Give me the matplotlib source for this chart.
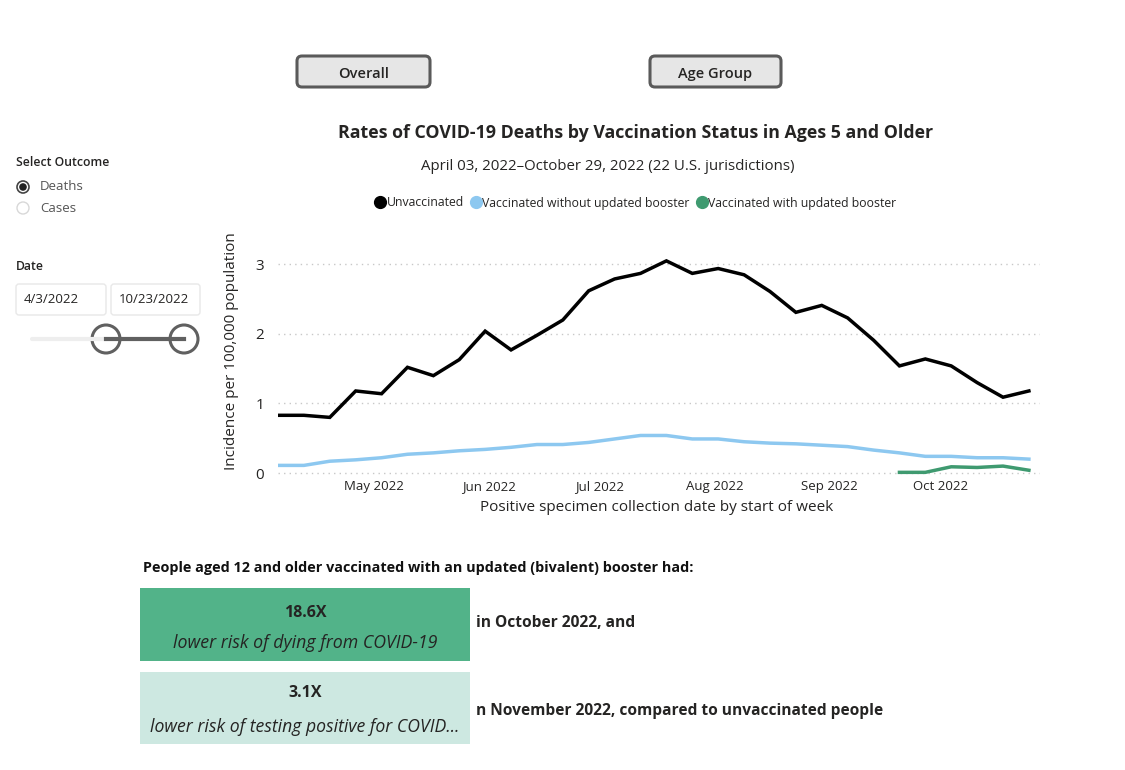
import matplotlib
matplotlib.use("Agg")
import matplotlib.pyplot as plt
from matplotlib.patches import FancyBboxPatch, Circle, Rectangle
from matplotlib.lines import Line2D
import numpy as np
import pandas as pd

# ---------------- data ----------------
week_start = pd.date_range("2022-04-03", "2022-10-23", freq="7D")
unvaccinated = [0.83, 0.83, 0.80, 1.18, 1.14, 1.52, 1.40, 1.63, 2.04, 1.77,
                1.98, 2.20, 2.62, 2.79, 2.87, 3.05, 2.87, 2.94, 2.85, 2.61,
                2.31, 2.41, 2.23, 1.91, 1.54, 1.64, 1.54, 1.30, 1.09, 1.18]
vacc_no_booster = [0.11, 0.11, 0.17, 0.19, 0.22, 0.27, 0.29, 0.32, 0.34, 0.37,
                   0.41, 0.41, 0.44, 0.49, 0.54, 0.54, 0.49, 0.49, 0.45, 0.43,
                   0.42, 0.40, 0.38, 0.33, 0.29, 0.24, 0.24, 0.22, 0.22, 0.20]
vacc_booster = [np.nan] * 24 + [0.01, 0.01, 0.09, 0.08, 0.10, 0.04]
series_names = ["Unvaccinated", "Vaccinated without updated booster",
                "Vaccinated with updated booster"]
month_ticks = pd.to_datetime(["2022-05-01", "2022-06-01", "2022-07-01",
                              "2022-08-01", "2022-09-01", "2022-10-01"])
month_labels = ["May 2022", "Jun 2022", "Jul 2022", "Aug 2022", "Sep 2022", "Oct 2022"]
y_ticks = [0, 1, 2, 3]

title = "Rates of COVID-19 Deaths by Vaccination Status in Ages 5 and Older"
subtitle = "April 03, 2022\u2013October 29, 2022 (22 U.S. jurisdictions)"

# ---------------- style ----------------
FONT = ["Open Sans", "DejaVu Sans"]
plt.rcParams["font.family"] = FONT
C_BLACK = "#000000"
C_BLUE = "#8dc8f0"
C_GREEN = "#3f9a70"
TXT = "#252423"

W, H = 1125, 770
fig = plt.figure(figsize=(W / 100, H / 100), dpi=100)
fig.patch.set_facecolor("white")


def fx(x):
    return x / W


def fy(y):
    return 1 - y / H


# ---------------- main chart ----------------
left, right, top, bottom = 278, 1040, 240, 480
ax = fig.add_axes([fx(left), fy(bottom), fx(right - left), (bottom - top) / H])
ax.plot(week_start, unvaccinated, color=C_BLACK, lw=2.5, solid_joinstyle="miter")
ax.plot(week_start, vacc_no_booster, color=C_BLUE, lw=2.5)
ax.plot(week_start, vacc_booster, color=C_GREEN, lw=2.5)
ax.set_ylim(-0.1, 3.35)
ax.set_xlim(week_start[0], week_start[-1] + pd.Timedelta(days=3))
ax.set_yticks(y_ticks)
ax.set_yticklabels([str(v) for v in y_ticks], fontsize=11, color=TXT)
ax.set_xticks(month_ticks - pd.Timedelta(days=2))
ax.set_xticklabels(month_labels, fontsize=9.5, color=TXT)
ax.tick_params(axis="x", length=0, pad=0)
ax.tick_params(axis="y", length=0, pad=10)
for s in ax.spines.values():
    s.set_visible(False)
ax.grid(axis="y", color="#c8c8c8", linestyle=(0, (1, 3)), lw=1)
ax.set_axisbelow(True)
ax.set_ylabel("Incidence per 100,000 population", fontsize=11, color=TXT)
ax.yaxis.set_label_coords(-(278 - 239) / (right - left), (bottom - 351) / (bottom - top))
ax.set_xlabel("Positive specimen collection date by start of week", fontsize=11,
              color=TXT)
ax.xaxis.set_label_coords((657 - left) / (right - left), -(500 - bottom) / (bottom - top))

# title / subtitle
fig.text(fx(636), fy(133), title, ha="center", va="center", fontsize=12.8,
         fontweight="bold", color=TXT)
fig.text(fx(608), fy(167), subtitle, ha="center", va="center", fontsize=10.8, color=TXT)

# legend
handles = [Line2D([], [], marker="o", ls="none", color=c, markersize=8.5)
           for c in (C_BLACK, C_BLUE, C_GREEN)]
leg = fig.legend(handles, series_names, loc="center", bbox_to_anchor=(fx(635), fy(203)),
                 ncol=3, frameon=False, fontsize=8.8, handletextpad=0.0,
                 columnspacing=0.5, handlelength=1.0)
for t in leg.get_texts():
    t.set_color(TXT)

# ---------------- overlay (buttons, slicers, cards) ----------------
ov = fig.add_axes([0, 0, 1, 1])
ov.set_xlim(0, W)
ov.set_ylim(H, 0)
ov.axis("off")
ov.set_zorder(-1)

for (x0, x1, label) in [(297, 430, "Overall"), (650, 781, "Age Group")]:
    ov.add_patch(FancyBboxPatch((x0, 56), x1 - x0, 31,
                                boxstyle="round,pad=0,rounding_size=5",
                                fc="#e6e6e6", ec="#5a5a5a", lw=2.2))
    ov.text((x0 + x1) / 2, 74, label, ha="center", va="center", fontsize=10.5,
            fontweight="semibold", color=TXT)

# Select outcome
ov.text(16, 162, "Select Outcome", ha="left", va="center", fontsize=8.8,
        fontweight="semibold", color=TXT)
ov.add_patch(Circle((23, 187), 6, fc="white", ec="#444444", lw=1.2))
ov.add_patch(Circle((23, 187), 3.8, fc="#222222", ec="none"))
ov.text(40, 187, "Deaths", ha="left", va="center", fontsize=9.5, color="#555555")
ov.add_patch(Circle((23, 208), 6, fc="white", ec="#d8d8d8", lw=1))
ov.text(40, 208, "Cases", ha="left", va="center", fontsize=9.5, color="#555555")

# Date slicer
ov.text(16, 266, "Date", ha="left", va="center", fontsize=8.8, fontweight="semibold",
        color=TXT)
for (x0, x1, label) in [(16, 106, "4/3/2022"), (111, 200, "10/23/2022")]:
    ov.add_patch(FancyBboxPatch((x0, 284), x1 - x0, 31,
                                boxstyle="round,pad=0,rounding_size=3",
                                fc="white", ec="#e8e8e8", lw=1))
    ov.text(x0 + 8, 299.5, label, ha="left", va="center", fontsize=9.5, color=TXT)
ov.plot([32, 106], [339, 339], color="#eeeeee", lw=3, solid_capstyle="round")
ov.plot([106, 184], [339, 339], color="#606060", lw=3)
for cx in (106, 184):
    ov.add_patch(Circle((cx, 339), 14, fc="white", ec="#606060", lw=2.2))

# Cards
ov.text(143, 568, "People aged 12 and older vaccinated with an updated (bivalent) booster had:",
        ha="left", va="center", fontsize=10.4, fontweight="bold", color="#111111")
ov.add_patch(Rectangle((140, 588), 330, 73, fc="#52b389", ec="none"))
ov.text(305, 613, "18.6X", ha="center", va="center", fontsize=11.5, fontweight="bold",
        color="#252423")
ov.text(305, 643, "lower risk of dying from COVID-19", ha="center", va="center",
        fontsize=12.8, style="italic", color="#252423")
t1 = ov.text(476, 623, "in October 2022, and", ha="left", va="center", fontsize=11.2,
             fontweight="bold", color="#252423")
t1.set_clip_path(Rectangle((470, 600), 162, 50, transform=ov.transData))

ov.add_patch(Rectangle((140, 672), 330, 72, fc="#cde8e1", ec="none"))
ov.text(305, 693, "3.1X", ha="center", va="center", fontsize=11.5, fontweight="bold",
        color="#252423")
ov.text(305, 727, "lower risk of testing positive for COVID...", ha="center",
        va="center", fontsize=12.7, style="italic", color="#252423")
ov.text(476, 711, "n November 2022, compared to unvaccinated people", ha="left",
        va="center", fontsize=11.2, fontweight="bold", color="#252423")

fig.savefig("out.png", dpi=100)
